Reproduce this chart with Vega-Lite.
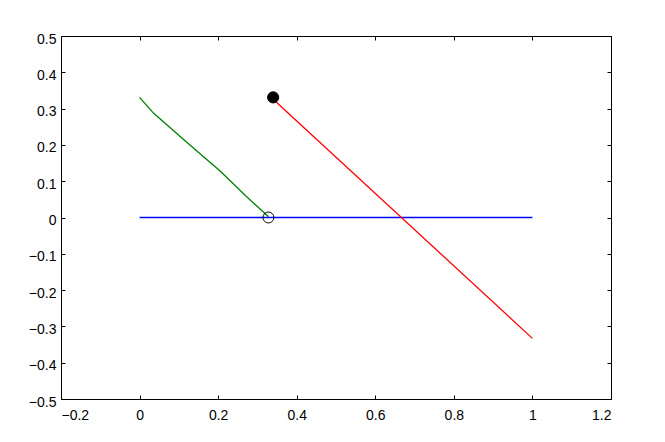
{
  "$schema": "https://vega.github.io/schema/vega-lite/v6.json",
  "width": 550,
  "height": 363,
  "autosize": "none",
  "padding": {"left": 61, "top": 36, "right": 54, "bottom": 43},
  "background": "white",
  "config": {
    "view": {"stroke": null},
    "axis": {
      "domainColor": "black", "domainWidth": 1, "tickColor": "black", "grid": false,
      "labelFont": "Liberation Sans", "labelFontSize": 14, "labelColor": "black",
      "tickSize": -4, "title": null
    }
  },
  "datasets": {
    "lines": [
      {"series": "s1", "i": 0, "x": 0, "y": 0},
      {"series": "s1", "i": 1, "x": 1, "y": 0},
      {"series": "s2", "i": 0, "x": 0, "y": 0.331},
      {"series": "s2", "i": 1, "x": 0.018, "y": 0.309},
      {"series": "s2", "i": 2, "x": 0.036, "y": 0.287},
      {"series": "s2", "i": 3, "x": 0.12, "y": 0.207},
      {"series": "s2", "i": 4, "x": 0.205, "y": 0.128},
      {"series": "s2", "i": 5, "x": 0.27, "y": 0.06},
      {"series": "s2", "i": 6, "x": 0.328, "y": 0.002},
      {"series": "s3", "i": 0, "x": 0.34, "y": 0.326},
      {"series": "s3", "i": 1, "x": 1, "y": -0.333}
    ],
    "points": [
      {"kind": "filled", "x": 0.34, "y": 0.331},
      {"kind": "open", "x": 0.328, "y": 0}
    ]
  },
  "layer": [
    {
      "data": {"name": "lines"},
      "mark": {"type": "line", "strokeWidth": 1.3, "clip": true},
      "encoding": {
        "x": {"field": "x", "type": "quantitative", "scale": {"domain": [-0.2, 1.2], "nice": false, "zero": false},
              "axis": {"orient": "bottom", "values": [-0.2, 0, 0.2, 0.4, 0.6, 0.8, 1, 1.2], "labelPadding": 13, "format": "~g"}},
        "y": {"field": "y", "type": "quantitative", "scale": {"domain": [-0.5, 0.5], "nice": false, "zero": false},
              "axis": {"orient": "left", "values": [-0.5, -0.4, -0.3, -0.2, -0.1, 0, 0.1, 0.2, 0.3, 0.4, 0.5], "labelPadding": 9, "labelOffset": 3, "format": "~g"}},
        "stroke": {"field": "series", "type": "nominal", "scale": {"domain": ["s1", "s2", "s3"], "range": ["#0000ff", "#008000", "#ff0000"]}, "legend": null},
        "order": {"field": "i", "type": "quantitative"}
      }
    },
    {
      "data": {"name": "points"},
      "transform": [{"filter": "datum.kind === 'filled'"}],
      "mark": {"type": "point", "shape": "circle", "size": 125, "strokeWidth": 1, "stroke": "black", "fill": "black", "filled": true, "opacity": 1},
      "encoding": {
        "x": {"field": "x", "type": "quantitative",
              "axis": {"orient": "top", "values": [-0.2, 0, 0.2, 0.4, 0.6, 0.8, 1, 1.2], "labels": false}},
        "y": {"field": "y", "type": "quantitative",
              "axis": {"orient": "right", "values": [-0.5, -0.4, -0.3, -0.2, -0.1, 0, 0.1, 0.2, 0.3, 0.4, 0.5], "labels": false}}
      }
    },
    {
      "data": {"name": "points"},
      "transform": [{"filter": "datum.kind === 'open'"}],
      "mark": {"type": "point", "shape": "circle", "size": 120, "strokeWidth": 1, "stroke": "black", "filled": false, "opacity": 1},
      "encoding": {
        "x": {"field": "x", "type": "quantitative", "axis": null},
        "y": {"field": "y", "type": "quantitative", "axis": null}
      }
    }
  ],
  "resolve": {"axis": {"x": "independent", "y": "independent"}}
}
